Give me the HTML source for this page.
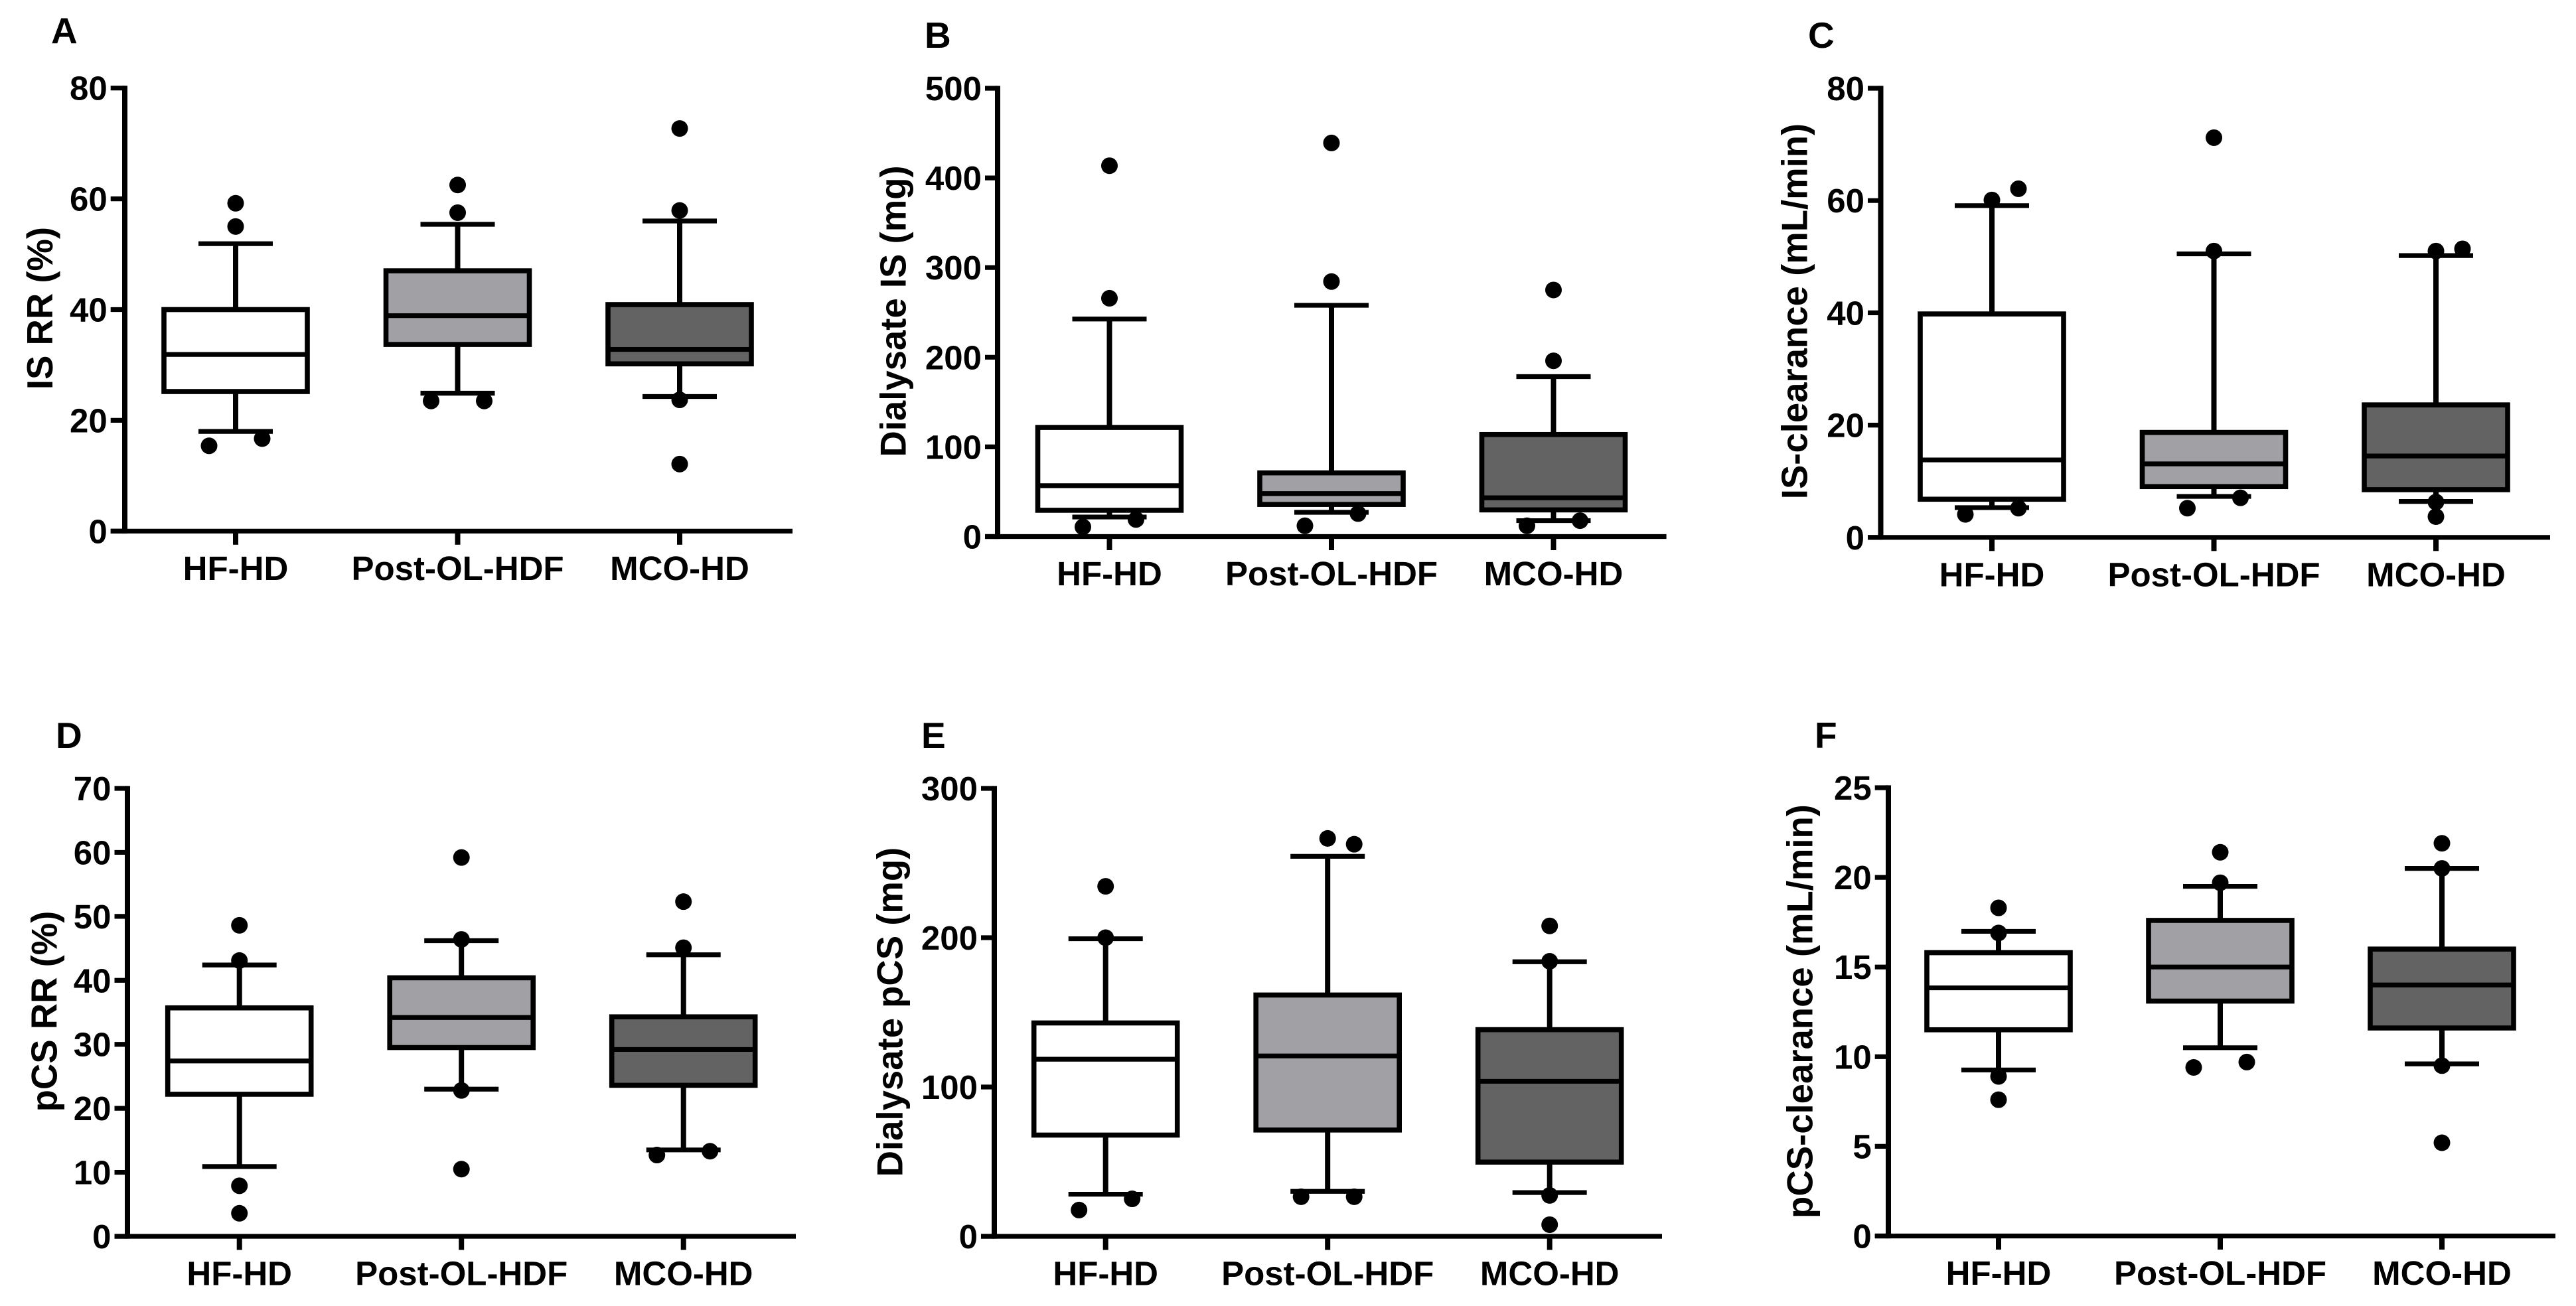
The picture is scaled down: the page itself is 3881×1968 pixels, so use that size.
<!DOCTYPE html>
<html lang="en">
<head>
<meta charset="utf-8">
<title>Box plots of IS and pCS removal</title>
<style>
html,body{margin:0;padding:0;background:#fff;width:3881px;height:1968px;overflow:hidden}
svg{display:block}
text{font-family:"Liberation Sans",Arial,sans-serif;font-weight:bold;fill:#000}
</style>
</head>
<body>
<svg id="figure" xmlns="http://www.w3.org/2000/svg" width="3881" height="1968" viewBox="0 0 3881 1968"></svg>
<script>
const categories = ['HF-HD', 'Post-OL-HDF', 'MCO-HD'];
const groupNames = ['hf-hd', 'post-ol-hdf', 'mco-hd'];
const groupFills = ['#ffffff', '#a1a0a5', '#636363'];

/* Panel A: IS RR (%) */
const aTicks = [0, 20, 40, 60, 80];
const aWhiskerHigh = [51.9, 55.4, 56];
const aQ3 = [40, 47, 40.9];
const aMedian = [31.9, 38.9, 32.8];
const aQ1 = [25.2, 33.7, 30.2];
const aWhiskerLow = [18, 24.9, 24.3];
const aOutliers = [[59.2, 55, 15.4, 16.7], [62.5, 57.5, 23.5, 23.5], [72.7, 57.9, 23.7, 12.1]];
const aSwarmSlots = [[0, 0, -1, 1], [0, 0, -1, 1], [0, 0, 0, 0]];

/* Panel B: Dialysate IS (mg) */
const bTicks = [0, 100, 200, 300, 400, 500];
const bWhiskerHigh = [242.6, 257.9, 178.4];
const bQ3 = [121.7, 71, 113.8];
const bMedian = [56.7, 47.9, 43.2];
const bQ1 = [29.3, 35.8, 29.7];
const bWhiskerLow = [21.8, 27, 17.7];
const bOutliers = [[413.6, 265.8, 10.7, 19], [439, 284.4, 12, 25.6], [275, 196, 12, 17.7]];
const bSwarmSlots = [[0, 0, -1, 1], [0, 0, -1, 1], [0, 0, -1, 1]];

/* Panel C: IS-clearance (mL/min) */
const cTicks = [0, 20, 40, 60, 80];
const cWhiskerHigh = [59.1, 50.5, 50.2];
const cQ3 = [39.8, 18.7, 23.6];
const cMedian = [13.8, 13.1, 14.5];
const cQ1 = [6.8, 9.05, 8.5];
const cWhiskerLow = [5.3, 7.3, 6.4];
const cOutliers = [[60.1, 62.1, 4.1, 5.2], [71.2, 51, 5.2, 7.05], [51, 51.4, 6.3, 3.7]];
const cSwarmSlots = [[0, 1, -1, 1], [0, 0, -1, 1], [0, 1, 0, 0]];

/* Panel D: pCS RR (%) */
const dTicks = [0, 10, 20, 30, 40, 50, 60, 70];
const dWhiskerHigh = [42.4, 46.2, 44];
const dQ3 = [35.7, 40.4, 34.3];
const dMedian = [27.4, 34.2, 29.2];
const dQ1 = [22.2, 29.5, 23.6];
const dWhiskerLow = [10.9, 23, 13.5];
const dOutliers = [[48.6, 43.1, 7.9, 3.6], [59.2, 46.4, 22.8, 10.5], [52.3, 45.1, 12.7, 13.3]];
const dSwarmSlots = [[0, 0, 0, 0], [0, 0, 0, 0], [0, 0, -1, 1]];

/* Panel E: Dialysate pCS (mg) */
const eTicks = [0, 100, 200, 300];
const eWhiskerHigh = [199.3, 254.5, 183.9];
const eQ3 = [142.9, 161.6, 138.4];
const eMedian = [118.6, 120.8, 103.8];
const eQ1 = [67.8, 71.2, 49.7];
const eWhiskerLow = [28.2, 30.1, 29.3];
const eOutliers = [[234.4, 200, 17.6, 25.1], [266.5, 262.6, 26.5, 26.5], [207.9, 184.2, 27.4, 7.8]];
const eSwarmSlots = [[0, 0, -1, 1], [0, 1, -1, 1], [0, 0, 0, 0]];

/* Panel F: pCS-clearance (mL/min) */
const fTicks = [0, 5, 10, 15, 20, 25];
const fWhiskerHigh = [16.99, 19.5, 20.5];
const fQ3 = [15.8, 17.6, 16];
const fMedian = [13.84, 15, 14];
const fQ1 = [11.5, 13.1, 11.6];
const fWhiskerLow = [9.26, 10.5, 9.6];
const fOutliers = [[18.3, 16.9, 8.9, 7.6], [21.4, 19.7, 9.4, 9.7], [21.9, 20.5, 9.5, 5.2]];
const fSwarmSlots = [[0, 0, 0, 0], [0, 0, -1, 1], [0, 0, 0, 0]];

const panels = [
  {id: 'a', letter: 'A', title: 'IS RR (%)', ticks: aTicks, hi: aWhiskerHigh, q3: aQ3, med: aMedian, q1: aQ1, lo: aWhiskerLow, out: aOutliers, slots: aSwarmSlots,
   frame: {axisX: 188, top: 132.7, base: 800.3, tickLeft: 166.7, end: 1194, first: 355, step: 334.5, titleX: 79, titleY: 464.5, letterX: 77, letterY: 65}},
  {id: 'b', letter: 'B', title: 'Dialysate IS (mg)', ticks: bTicks, hi: bWhiskerHigh, q3: bQ3, med: bMedian, q1: bQ1, lo: bWhiskerLow, out: bOutliers, slots: bSwarmSlots,
   frame: {axisX: 1503, top: 133, base: 808.5, tickLeft: 1484, end: 2510.6, first: 1671.5, step: 334.5, titleX: 1364.7, titleY: 469, letterX: 1393, letterY: 72}},
  {id: 'c', letter: 'C', title: 'IS-clearance (mL/min)', ticks: cTicks, hi: cWhiskerHigh, q3: cQ3, med: cMedian, q1: cQ1, lo: cWhiskerLow, out: cOutliers, slots: cSwarmSlots,
   frame: {axisX: 2833.5, top: 133, base: 809.8, tickLeft: 2814, end: 3842, first: 3001, step: 334.5, titleX: 2722.5, titleY: 469, letterX: 2724, letterY: 72}},
  {id: 'd', letter: 'D', title: 'pCS RR (%)', ticks: dTicks, hi: dWhiskerHigh, q3: dQ3, med: dMedian, q1: dQ1, lo: dWhiskerLow, out: dOutliers, slots: dSwarmSlots,
   frame: {axisX: 192, top: 1188, base: 1863, tickLeft: 172.5, end: 1199, first: 360.7, step: 334.5, titleX: 85.4, titleY: 1524, letterX: 84, letterY: 1127}},
  {id: 'e', letter: 'E', title: 'Dialysate pCS (mg)', ticks: eTicks, hi: eWhiskerHigh, q3: eQ3, med: eMedian, q1: eQ1, lo: eWhiskerLow, out: eOutliers, slots: eSwarmSlots,
   frame: {axisX: 1498, top: 1188, base: 1863, tickLeft: 1478, end: 2504, first: 1665.7, step: 334.5, titleX: 1359.7, titleY: 1525, letterX: 1388, letterY: 1127}},
  {id: 'f', letter: 'F', title: 'pCS-clearance (mL/min)', ticks: fTicks, hi: fWhiskerHigh, q3: fQ3, med: fMedian, q1: fQ1, lo: fWhiskerLow, out: fOutliers, slots: fSwarmSlots,
   frame: {axisX: 2845, top: 1187, base: 1862.5, tickLeft: 2824.7, end: 3850, first: 3011, step: 334, titleX: 2730.7, titleY: 1524, letterX: 2734, letterY: 1127}}
];

const NS = 'http://www.w3.org/2000/svg';
const STROKE_V = 8;
const STROKE_H = 7.2;
const STROKE_BOX = 7.6;
const BOX_HALF = 108;
const CAP_HALF = 56;
const DOT_R = 12.5;
const SLOT_STEP = 40;
const TICK_FONT = 51;
const figure = document.getElementById('figure');

function make(parent, tag, attrs, content) {
  const el = document.createElementNS(NS, tag);
  for (const key in attrs) el.setAttribute(key, attrs[key]);
  if (content !== undefined) el.textContent = content;
  parent.appendChild(el);
  return el;
}

function drawLine(parent, x1, y1, x2, y2, width) {
  return make(parent, 'line', {x1: x1, y1: y1, x2: x2, y2: y2, stroke: '#000', 'stroke-width': width});
}

function drawPanel(panel) {
  const f = panel.frame;
  const yMax = panel.ticks[panel.ticks.length - 1];
  const yScale = function (v) { return f.base - (v / yMax) * (f.base - f.top); };
  const xScale = function (i) { return f.first + i * f.step; };

  const g = make(figure, 'g', {});
  
  

  const letter = make(g, 'text', {x: f.letterX, y: f.letterY, 'font-size': 55}, panel.letter);
  
  

  const title = make(g, 'text', {
    transform: 'translate(' + f.titleX + ',' + f.titleY + ') rotate(-90)',
    'text-anchor': 'middle', 'font-size': 54.5
  }, panel.title);
  
  

  const yAxis = drawLine(g, f.axisX, f.top - STROKE_H / 2, f.axisX, f.base + STROKE_H / 2, STROKE_V);
  
  

  const xAxis = drawLine(g, f.tickLeft, f.base, f.end, f.base, STROKE_H);
  
  

  panel.ticks.forEach(function (t) {
    const y = yScale(t);
    const tick = drawLine(g, f.tickLeft, y, f.axisX, y, STROKE_H);
    
    
    const label = make(g, 'text', {x: f.tickLeft - 5, y: y + 18, 'text-anchor': 'end', 'font-size': TICK_FONT}, String(t));
    
    
  });

  categories.forEach(function (name, i) {
    const cx = xScale(i);
    const tick = drawLine(g, cx, f.base, cx, f.base + 20.5, STROKE_V);
    
    
    const label = make(g, 'text', {x: cx, y: f.base + 73.5, 'text-anchor': 'middle', 'font-size': TICK_FONT}, name);
    
    

    const group = make(g, 'g', {});
    
    

    const upper = drawLine(group, cx, yScale(panel.hi[i]), cx, yScale(panel.q3[i]), STROKE_V);
    
    
    const lower = drawLine(group, cx, yScale(panel.q1[i]), cx, yScale(panel.lo[i]), STROKE_V);
    
    
    const capHigh = drawLine(group, cx - CAP_HALF, yScale(panel.hi[i]), cx + CAP_HALF, yScale(panel.hi[i]), STROKE_H);
    
    
    const capLow = drawLine(group, cx - CAP_HALF, yScale(panel.lo[i]), cx + CAP_HALF, yScale(panel.lo[i]), STROKE_H);
    
    

    const box = make(group, 'rect', {
      x: cx - BOX_HALF, y: yScale(panel.q3[i]), width: BOX_HALF * 2,
      height: yScale(panel.q1[i]) - yScale(panel.q3[i]),
      fill: groupFills[i], stroke: '#000', 'stroke-width': STROKE_BOX
    });
    
    

    const median = drawLine(group, cx - BOX_HALF, yScale(panel.med[i]), cx + BOX_HALF, yScale(panel.med[i]), STROKE_H);
    
    

    panel.out[i].forEach(function (v, k) {
      const dot = make(group, 'circle', {cx: cx + panel.slots[i][k] * SLOT_STEP, cy: yScale(v), r: DOT_R, fill: '#000'});
      
      
    });
  });
}

panels.forEach(drawPanel);
</script>
</body>
</html>
